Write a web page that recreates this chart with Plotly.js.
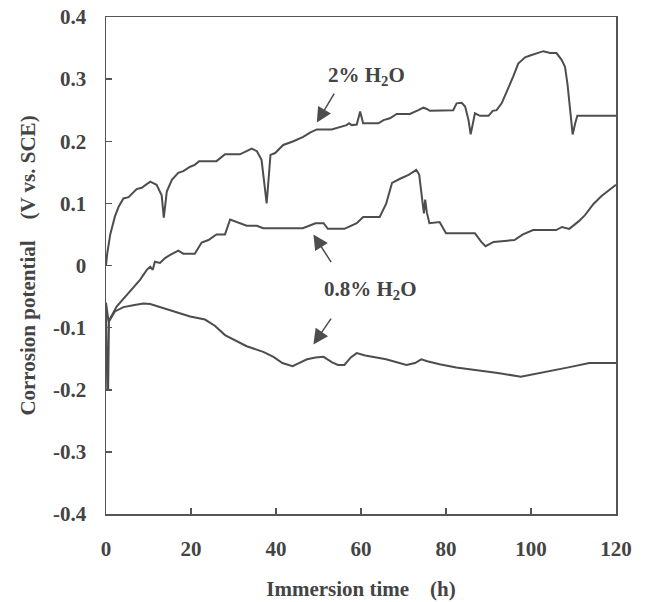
<!DOCTYPE html>
<html>
<head>
<meta charset="utf-8">
<script src="https://cdn.plot.ly/plotly-3.0.1.min.js"></script>
<style>html,body{margin:0;padding:0;background:#fff;}#chart{width:649px;height:602px;}</style>
</head>
<body>
<div id="chart"></div>
<script>
// 2% H2O curve
const t2 = [0, 0.3, 1, 2.1, 3, 4.1, 5.3, 7.2, 8.4, 10.4, 11.9, 13.1, 13.6, 14.3, 15.5, 17, 18.2, 19.8, 20.9, 21.9, 26, 28, 31.5, 34.3, 35.5, 36.6, 37.8, 38.7, 39.8, 40.9, 41.7, 44.1, 46.4, 48, 49.6, 53.1, 55.1, 56.6, 57.2, 57.8, 59, 59.8, 60.5, 64.1, 65.3, 66.8, 68.4, 71.5, 73.5, 74.7, 75.5, 76.2, 81.7, 82.5, 83.7, 84.5, 85.3, 85.8, 86.4, 86.8, 88, 90, 91, 91.9, 93.1, 94.7, 95.8, 97, 98.6, 99.8, 101.3, 102.9, 104.5, 106, 107.2, 108, 108.6, 109.2, 109.8, 110.4, 110.9, 120];
const v2 = [0.0, 0.02, 0.05, 0.079, 0.095, 0.108, 0.110, 0.123, 0.125, 0.135, 0.130, 0.113, 0.077, 0.119, 0.138, 0.149, 0.152, 0.159, 0.162, 0.168, 0.168, 0.179, 0.179, 0.188, 0.184, 0.170, 0.100, 0.178, 0.181, 0.189, 0.194, 0.200, 0.207, 0.214, 0.219, 0.219, 0.223, 0.226, 0.229, 0.226, 0.227, 0.248, 0.229, 0.229, 0.234, 0.237, 0.244, 0.244, 0.250, 0.254, 0.252, 0.249, 0.250, 0.261, 0.262, 0.256, 0.234, 0.211, 0.231, 0.245, 0.241, 0.241, 0.249, 0.250, 0.261, 0.285, 0.304, 0.325, 0.335, 0.338, 0.342, 0.345, 0.342, 0.342, 0.331, 0.320, 0.291, 0.248, 0.211, 0.229, 0.241, 0.241];

// 0.8% H2O curve (upper branch)
const tA = [0, 0.6, 2.5, 4.5, 6, 8, 9.6, 10.4, 11, 11.5, 12.7, 13.9, 15.1, 17, 18.2, 20.9, 22.5, 24.1, 26, 28, 29.2, 30, 31.5, 33.1, 35.5, 37, 46.3, 49.3, 51.2, 52.2, 56.1, 59, 60.5, 64.4, 65.9, 67.3, 69.3, 71.2, 73, 73.7, 74.4, 74.8, 75.1, 75.5, 76.1, 78.5, 80, 86.8, 88.3, 89.3, 91.2, 96.1, 98.1, 100.5, 105.9, 107.3, 109, 111.2, 112.7, 114.7, 116.6, 120];
const vA = [-0.06, -0.09, -0.066, -0.050, -0.039, -0.023, -0.007, -0.002, -0.007, 0.006, 0.004, 0.012, 0.017, 0.024, 0.019, 0.019, 0.037, 0.041, 0.050, 0.050, 0.074, 0.072, 0.067, 0.064, 0.064, 0.060, 0.060, 0.068, 0.068, 0.059, 0.059, 0.068, 0.078, 0.078, 0.099, 0.133, 0.140, 0.146, 0.154, 0.146, 0.106, 0.084, 0.106, 0.085, 0.068, 0.070, 0.052, 0.052, 0.038, 0.031, 0.038, 0.041, 0.050, 0.057, 0.057, 0.062, 0.059, 0.071, 0.081, 0.099, 0.112, 0.130];

// 0.8% H2O curve (lower branch)
const tB = [0, 0.3, 0.5, 0.7, 2.1, 4.1, 6.4, 8.8, 10.4, 13.5, 16.6, 19.8, 23.3, 25.6, 28, 30.4, 33.1, 37, 39.4, 41.5, 43.9, 45.4, 47.3, 49.3, 51.2, 53.2, 54.6, 56.1, 57.6, 59, 61, 65.9, 70.7, 72.7, 74.2, 75.6, 78.5, 82.4, 87.3, 92.2, 97.6, 100, 103.9, 108.8, 113.7, 120];
const vB = [-0.06, -0.2, -0.2, -0.09, -0.074, -0.067, -0.064, -0.061, -0.062, -0.069, -0.075, -0.082, -0.087, -0.097, -0.112, -0.120, -0.130, -0.139, -0.147, -0.157, -0.162, -0.157, -0.151, -0.148, -0.147, -0.156, -0.160, -0.160, -0.148, -0.141, -0.145, -0.151, -0.160, -0.157, -0.151, -0.154, -0.159, -0.164, -0.168, -0.173, -0.179, -0.176, -0.170, -0.164, -0.157, -0.157];

const xTicks = [0, 20, 40, 60, 80, 100, 120];
const xTickText = ["0", "20", "40", "60", "80", "100", "120"];
const yTicks = [0.4, 0.3, 0.2, 0.1, 0, -0.1, -0.2, -0.3, -0.4];
const yTickText = ["0.4", "0.3", "0.2", "0.1", "0", "-0.1", "-0.2", "-0.3", "-0.4"];

const lineColor = "#4d4d4d";
const textColor = "#444444";
const fontFam = "'Liberation Serif', 'Times New Roman', serif";
const bold = s => "<b>" + s + "</b>";

const traces = [
  {x: t2, y: v2, mode: "lines", line: {color: lineColor, width: 2}, name: "2% H2O", showlegend: false},
  {x: tA, y: vA, mode: "lines", line: {color: lineColor, width: 2}, name: "0.8% H2O", showlegend: false},
  {x: tB, y: vB, mode: "lines", line: {color: lineColor, width: 2}, name: "0.8% H2O b", showlegend: false}
];

const axisCommon = {
  showline: true, mirror: true, linecolor: "#555555", linewidth: 1.5,
  ticks: "inside", ticklen: 6, tickwidth: 1.5, tickcolor: "#555555",
  showgrid: false, zeroline: false, tickmode: "array",
  tickfont: {family: fontFam, size: 21, color: textColor}
};

const layout = {
  width: 649, height: 602,
  margin: {l: 106, r: 33, t: 17, b: 88},
  paper_bgcolor: "#ffffff", plot_bgcolor: "#ffffff",
  font: {family: fontFam, color: textColor},
  xaxis: Object.assign({}, axisCommon, {
    range: [0, 120], tickvals: xTicks, ticktext: xTickText.map(bold),
    ticklabelstandoff: 15,
    title: {text: "<b>Immersion time&nbsp;&nbsp;&nbsp;&nbsp;(h)</b>", font: {family: fontFam, size: 21, color: textColor}, standoff: 21}
  }),
  yaxis: Object.assign({}, axisCommon, {
    range: [-0.4, 0.4], tickvals: yTicks, ticktext: yTickText.map(bold),
    ticklabelstandoff: 14,
    title: {text: "<b>Corrosion potential&nbsp;&nbsp;&nbsp;&nbsp;(V vs. SCE)</b>", font: {family: fontFam, size: 21, color: textColor}, standoff: 11}
  }),
  annotations: [
    {x: 61.3, y: 0.305, xref: "x", yref: "y", text: "<b>2% H<sub>2</sub>O</b>", showarrow: false, font: {family: fontFam, size: 21, color: textColor}},
    {x: 49.6, y: 0.230, ax: 53.9, ay: 0.279, xref: "x", yref: "y", axref: "x", ayref: "y", text: "", showarrow: true, arrowhead: 2, arrowsize: 2, arrowwidth: 1.5, arrowcolor: lineColor},
    {x: 62.3, y: -0.039, xref: "x", yref: "y", text: "<b>0.8% H<sub>2</sub>O</b>", showarrow: false, font: {family: fontFam, size: 21, color: textColor}},
    {x: 48.8, y: 0.050, ax: 53.2, ay: 0.003, xref: "x", yref: "y", axref: "x", ayref: "y", text: "", showarrow: true, arrowhead: 2, arrowsize: 2, arrowwidth: 1.5, arrowcolor: lineColor},
    {x: 48.8, y: -0.127, ax: 53.2, ay: -0.083, xref: "x", yref: "y", axref: "x", ayref: "y", text: "", showarrow: true, arrowhead: 2, arrowsize: 2, arrowwidth: 1.5, arrowcolor: lineColor}
  ]
};

Plotly.newPlot("chart", traces, layout, {displayModeBar: false, staticPlot: true});
</script>
</body>
</html>
